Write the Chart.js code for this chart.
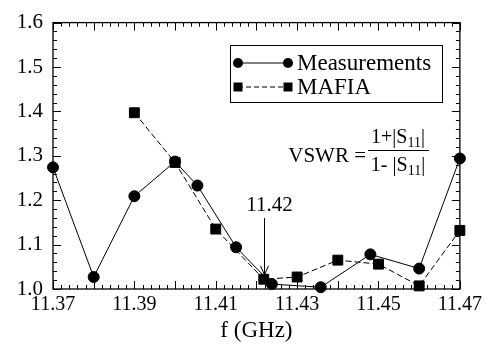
<!DOCTYPE html>
<html>
<head>
<meta charset="utf-8">
<script src="https://cdn.jsdelivr.net/npm/chart.js@4"></script>
<style>
    html, body { margin: 0; padding: 0; background: #fff; }
    canvas { display: block; }
</style>
</head>
<body>
<canvas id="vswrChart" width="486" height="345"></canvas>
<script>
// values
const measFreq = [11.370, 11.380, 11.390, 11.400, 11.4055, 11.415, 11.4238, 11.4358, 11.448, 11.460, 11.470];
const measVswr = [1.274, 1.027, 1.209, 1.287, 1.233, 1.094, 1.011, 1.004, 1.078, 1.046, 1.294];

const mafiaFreq = [11.390, 11.400, 11.410, 11.4218, 11.430, 11.440, 11.450, 11.460, 11.470];
const mafiaVswr = [1.397, 1.285, 1.135, 1.022, 1.027, 1.065, 1.056, 1.007, 1.132];

const xTicks = [11.37, 11.39, 11.41, 11.43, 11.45, 11.47];
const yTicks = [1.0, 1.1, 1.2, 1.3, 1.4, 1.5, 1.6];

const markerFreq = 11.4218;
const markerText = '11.42';

const serif = '"Liberation Serif", "DejaVu Serif", serif';

function toPoints(xs, ys) {
    return xs.map((f, i) => ({x: f, y: ys[i]}));
}

function line(ctx, x1, y1, x2, y2) {
    ctx.beginPath();
    ctx.moveTo(x1, y1);
    ctx.lineTo(x2, y2);
    ctx.stroke();
}

// text with subscript parts, centered on cx
function drawRuns(ctx, runs, cx, cy, size) {
    let total = 0;
    for (const r of runs) {
        ctx.font = (r.sub ? size * 0.7 : size) + 'px ' + serif;
        r.w = ctx.measureText(r.t).width;
        total += r.w;
    }
    let x = cx - total / 2;
    ctx.textAlign = 'left';
    ctx.textBaseline = 'middle';
    for (const r of runs) {
        ctx.font = (r.sub ? size * 0.7 : size) + 'px ' + serif;
        ctx.fillText(r.t, x, r.sub ? cy + size * 0.25 : cy);
        x += r.w;
    }
    return total;
}

// frame with inward ticks on all four sides
const frameTicks = {
    id: 'frameTicks',
    beforeDatasetsDraw(chart) {
        const {ctx, chartArea: a, scales: {x, y}} = chart;
        ctx.save();
        ctx.strokeStyle = '#000';
        ctx.lineWidth = 1.3;
        ctx.strokeRect(a.left, a.top, a.right - a.left, a.bottom - a.top);
        ctx.lineWidth = 1;

        for (let i = 0; i <= 50; i++) {
            const px = Math.round(x.getPixelForValue(x.min + i * 0.002)) + 0.5;
            const len = i % 5 === 0 ? 8 : 4;
            line(ctx, px, a.bottom, px, a.bottom - len);
            line(ctx, px, a.top, px, a.top + len);
        }
        for (let i = 0; i <= 30; i++) {
            const py = Math.round(y.getPixelForValue(y.min + i * 0.02)) + 0.5;
            const len = i % 5 === 0 ? 8 : 4;
            line(ctx, a.left, py, a.left + len, py);
            line(ctx, a.right, py, a.right - len, py);
        }
        ctx.restore();
    }
};

// legend box, formula and 11.42 arrow
const extras = {
    id: 'extras',
    afterDraw(chart) {
        const {ctx, scales: {x, y}} = chart;
        ctx.save();
        ctx.fillStyle = '#000';
        ctx.strokeStyle = '#000';

        // legend
        ctx.lineWidth = 1;
        ctx.strokeRect(230.5, 45.5, 212, 57);
        const rows = [
            {y: 63, label: 'Measurements', dash: [], shape: 'circle'},
            {y: 87, label: 'MAFIA', dash: [5, 3], shape: 'rect'}
        ];
        for (const r of rows) {
            ctx.setLineDash(r.dash);
            line(ctx, 238, r.y, 288, r.y);
            ctx.setLineDash([]);
            for (const sx of [238, 288]) {
                ctx.beginPath();
                if (r.shape === 'circle') {
                    ctx.arc(sx, r.y, 5, 0, Math.PI * 2);
                } else {
                    ctx.rect(sx - 4.5, r.y - 4.5, 9, 9);
                }
                ctx.fill();
            }
            ctx.font = '23px ' + serif;
            ctx.textAlign = 'left';
            ctx.textBaseline = 'middle';
            ctx.fillText(r.label, 297, r.y + 1);
        }

        // VSWR formula
        ctx.font = '21px ' + serif;
        ctx.textAlign = 'right';
        ctx.textBaseline = 'middle';
        ctx.fillText('VSWR =', 366, 156);
        drawRuns(ctx, [{t: '1+|S'}, {t: '11', sub: true}, {t: '|'}], 398, 138, 20);
        drawRuns(ctx, [{t: '1- |S'}, {t: '11', sub: true}, {t: '|'}], 398, 166, 20);
        line(ctx, 368, 150.5, 429, 150.5);

        // arrow at 11.42
        const ax = Math.round(x.getPixelForValue(markerFreq)) + 0.5;
        const yTop = y.getPixelForValue(1.16);
        const yTip = y.getPixelForValue(1.032);
        ctx.font = '21px ' + serif;
        ctx.textAlign = 'center';
        ctx.fillText(markerText, ax + 5, y.getPixelForValue(1.188));
        line(ctx, ax, yTop, ax, yTip);
        line(ctx, ax - 4, yTip - 9, ax, yTip);
        line(ctx, ax + 4, yTip - 9, ax, yTip);
        ctx.restore();
    }
};

new Chart(document.getElementById('vswrChart'), {
    type: 'scatter',
    data: {
        datasets: [{
            label: 'Measurements',
            data: toPoints(measFreq, measVswr),
            showLine: true,
            borderColor: '#000',
            backgroundColor: '#000',
            borderWidth: 1,
            pointStyle: 'circle',
            pointRadius: 5.5,
            clip: false
        }, {
            label: 'MAFIA',
            data: toPoints(mafiaFreq, mafiaVswr),
            showLine: true,
            borderColor: '#000',
            backgroundColor: '#000',
            borderWidth: 1,
            borderDash: [6, 3],
            pointStyle: 'rect',
            pointRadius: 7,
            clip: false
        }]
    },
    options: {
        responsive: false,
        animation: false,
        devicePixelRatio: 1,
        layout: {padding: {top: 22, right: 26, left: 0, bottom: 0}},
        plugins: {
            legend: {display: false},
            tooltip: {enabled: false}
        },
        scales: {
            x: {
                type: 'linear',
                min: 11.37,
                max: 11.47,
                afterBuildTicks: s => { s.ticks = xTicks.map(v => ({value: v})); },
                afterFit: s => { s.height = 56; },
                grid: {display: false, drawTicks: false},
                border: {display: false},
                ticks: {
                    padding: 4,
                    color: '#000',
                    font: {family: serif, size: 20},
                    callback: v => v.toFixed(2)
                },
                title: {
                    display: true,
                    text: 'f (GHz)',
                    color: '#000',
                    font: {family: serif, size: 23},
                    padding: {top: 0, bottom: 0}
                }
            },
            y: {
                min: 1.0,
                max: 1.6,
                afterBuildTicks: s => { s.ticks = yTicks.map(v => ({value: v})); },
                afterFit: s => { s.width = 53; },
                grid: {display: false, drawTicks: false},
                border: {display: false},
                ticks: {
                    padding: 10,
                    color: '#000',
                    font: {family: serif, size: 21},
                    callback: v => v.toFixed(1)
                }
            }
        }
    },
    plugins: [frameTicks, extras]
});
</script>
</body>
</html>
